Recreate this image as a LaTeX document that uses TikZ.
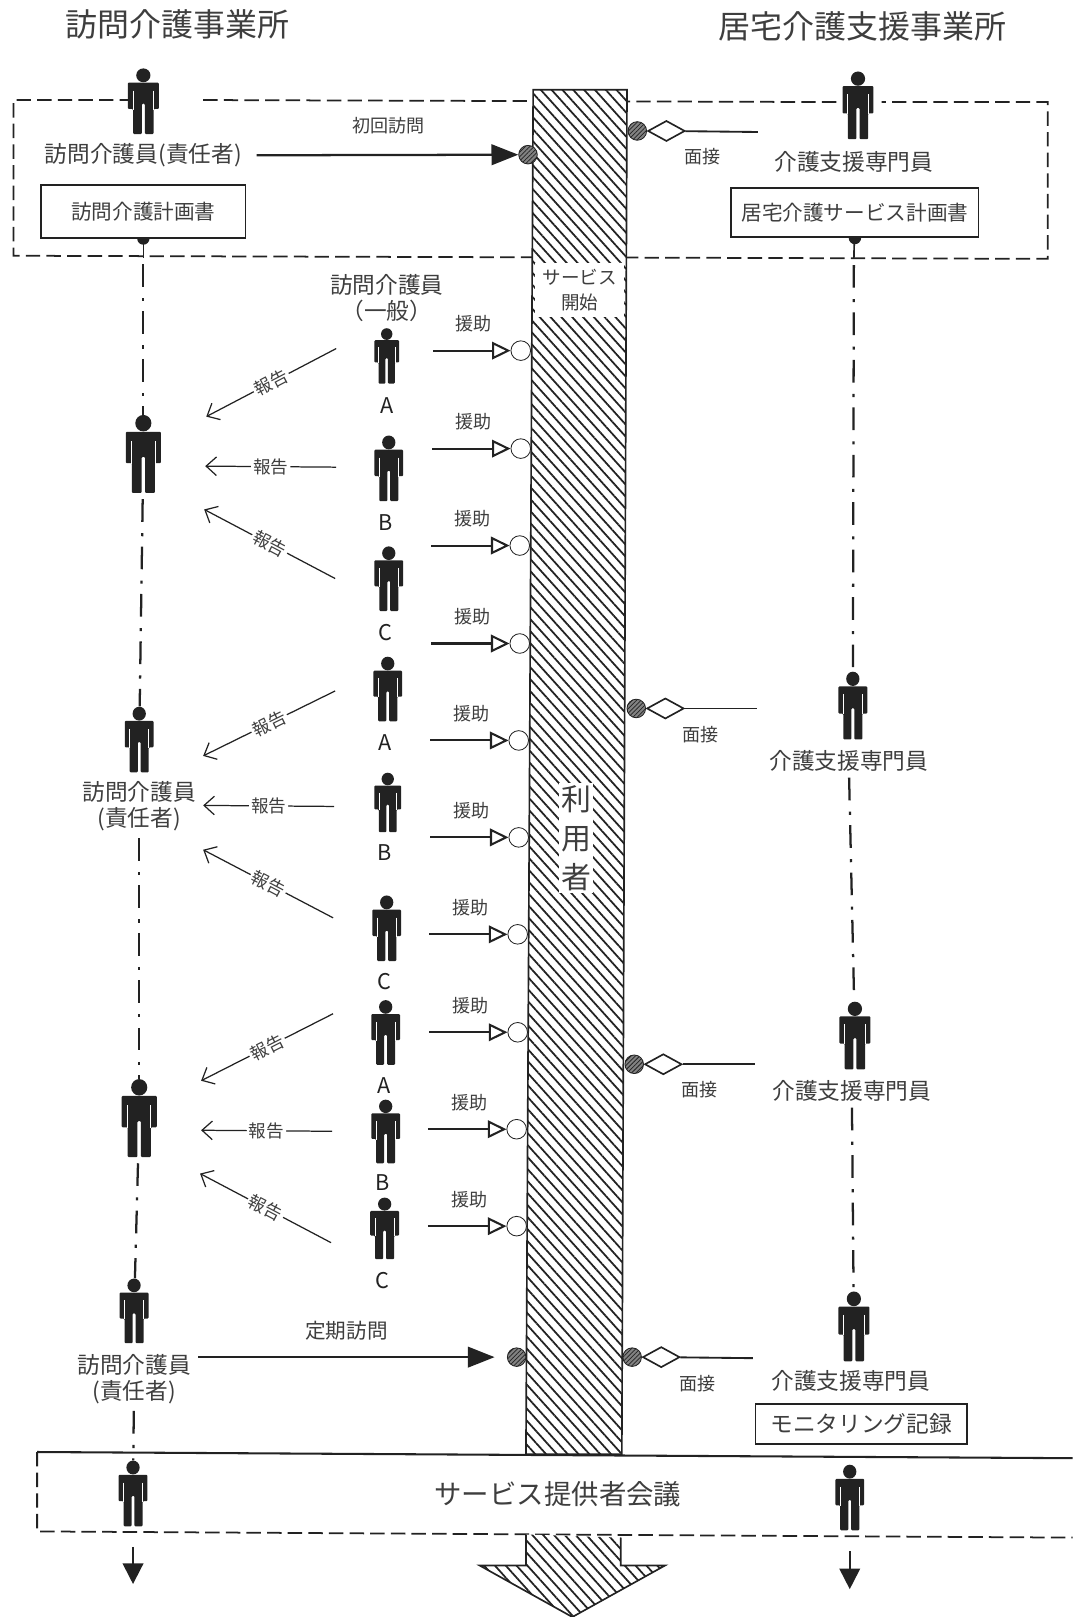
\documentclass[tikz,border=0pt]{standalone}
\usepackage{fontspec}
\setmainfont{Noto Sans CJK JP}
\usepackage{xcolor}
\definecolor{csInk}{RGB}{34,34,34}
\definecolor{csText}{RGB}{62,62,62}
\definecolor{csDot}{RGB}{130,130,130}
\usetikzlibrary{positioning,arrows.meta,shapes.geometric,patterns.meta}
\tikzset{
  cs-staff/.style 2 args={inner sep=0pt,outer sep=0pt,minimum width=#1*.5pt,minimum height=#2*.5pt,
    path picture={
      \begin{scope}[shift={(path picture bounding box.center)},x=#1*.5pt,y=-#2*.5pt]
        \fill[csInk] (0,-.39) circle [x radius=.23,y radius=.105];
        \fill[csInk,rounded corners=.5pt] (-.5,-.28) -- (.5,-.28) -- (.5,.12) -- (.33,.12) -- (.33,.5)
          -- (.05,.5) -- (.05,.04) -- (-.05,.04) -- (-.05,.5) -- (-.33,.5) -- (-.33,.12) -- (-.5,.12) -- cycle;
        \draw[white,line width=.35pt] (-.33,-.16) -- (-.33,.13) (.33,-.16) -- (.33,.13);
      \end{scope}}},
  cs-title/.style={text=csText,inner sep=0pt,font=\fontsize{15.5}{18}\selectfont},
  cs-name/.style={text=csText,inner sep=0pt,align=center,font=\fontsize{11}{13}\selectfont},
  cs-plan/.style={draw=csInk,fill=white,thick,text=csText,inner sep=0pt,align=center,font=\fontsize{10}{12}\selectfont},
  cs-tag/.style={text=csInk,inner sep=0pt,font=\fontsize{10.5}{12}\selectfont},
  cs-small/.style={text=csText,inner sep=0pt,font=\fontsize{8.75}{10}\selectfont},
  cs-report/.style={text=csText,fill=white,inner sep=1pt,font=\fontsize{8.5}{10}\selectfont},
  cs-dot/.style={circle,draw=csInk,fill=csDot,inner sep=0pt,minimum size=9pt,
    postaction={pattern={Lines[angle=45,distance=1.5pt,line width=.35pt]},pattern color=csInk}},
  cs-hollow/.style={circle,draw=csInk,fill=white,inner sep=0pt,minimum size=9.5pt},
  cs-gem/.style={diamond,draw=csInk,fill=white,thick,inner sep=0pt,aspect=1.8,minimum width=18pt,minimum height=10pt},
  cs-hatch/.style={preaction={fill=white},pattern={Lines[angle=-48,distance=3.9pt,line width=.85pt]},pattern color=csInk},
  cs-dash/.style={draw=csInk,line width=.85pt,dash pattern=on 7pt off 3pt},
  cs-chain/.style={draw=csInk,line width=1.1pt,dash pattern=on 11pt off 5.5pt on 1.5pt off 5pt},
  cs-visit/.style={-{Triangle[length=13pt,width=10pt]},csInk,line width=1.1pt},
  cs-help/.style={-{Triangle[open,length=9pt,width=8.5pt]},csInk,line width=1pt},
  cs-aid/.style={cs-small,above=8.5pt,xshift=1pt},
  cs-reportline/.style={-{Straight Barb[length=5pt,width=9pt]},csInk,line width=.6pt},
  cs-talk/.style={csInk,line width=.9pt},
  cs-end/.style={-{Triangle[length=10pt,width=10pt]},csInk,line width=.9pt},
}
\begin{document}
\begin{tikzpicture}[x=.5pt,y=-.5pt]
  \useasboundingbox (0,0) rectangle (1040,1568);

  % office titles
  \node[cs-title] (office) at (172,24) {訪問介護事業所};
  \node[cs-title] (care) at (836,26) {居宅介護支援事業所};

  % first visit frame
  \draw[cs-dash] (150,97) -- (13,97) -- (13,248) -- (1016,251) -- (1016,99) -- (855,99);
  \draw[cs-dash] (197,97) -- (815,99);

  % meeting frame
  \draw[csInk,line width=1pt] (36,1408) -- (1040,1414);
  \draw[cs-dash] (36,1408) -- (36,1485) -- (1040,1491);

  % user column
  \filldraw[cs-hatch,draw=csInk,line width=.8pt] (517,87) -- (608,87) -- (603,1410) -- (510,1410) -- cycle;
  \path[cs-hatch] (510,1488) -- (602,1491) -- (602,1518) -- (645,1518) -- (555,1568) -- (465,1518) -- (510,1518) -- cycle;
  \draw[csInk,line width=.8pt] (510,1488) -- (510,1518) -- (465,1518) -- (555,1568) -- (645,1518) -- (602,1518) -- (602,1491);
  \node[fill=white,text=csText,inner sep=0pt,align=center,minimum width=87*.5pt,minimum height=52*.5pt,
    font=\fontsize{9}{12}\selectfont] (start) at (562,281) {サービス\\開始};
  \node[fill=white,text=csText,inner sep=1pt,align=center,font=\fontsize{14.5}{19}\selectfont] (user) at (559,813) {利\\用\\者};

  % visiting side
  \node[cs-staff={30}{64}] (lead1) at (139,98) {};
  \node[cs-name,below=4.5pt of lead1] (lead1text) {訪問介護員(責任者)};
  \node[cs-plan,minimum width=198*.5pt,minimum height=51*.5pt] (visitplan) at (139,205) {訪問介護計画書};
  \coordinate (visitout) at (139,250);
  \node[cs-staff={34}{76}] (lead2) at (139,440) {};
  \node[cs-staff={28}{64}] (lead3) at (135,717) {};
  \node[cs-name,below=4pt of lead3] (lead3text) {訪問介護員\\(責任者)};
  \node[cs-staff={34}{76}] (lead4) at (135,1084) {};
  \node[cs-staff={28}{63}] (lead5) at (130,1271) {};
  \node[cs-name,below=5pt of lead5] (lead5text) {訪問介護員\\(責任者)};
  \node[cs-staff={28}{64}] (lead6) at (129,1448) {};
  \coordinate (leadend) at (129,1536);

  % support side
  \node[cs-staff={30}{66}] (mgr1) at (832,102) {};
  \node[cs-name,below=5.5pt of mgr1,xshift=-2pt] (mgr1text) {介護支援専門員};
  \node[cs-plan,minimum width=240*.5pt,minimum height=48*.5pt] (careplan) at (829,206) {居宅介護サービス計画書};
  \coordinate (careout) at (828,251);
  \node[cs-staff={28}{66}] (mgr2) at (827,684) {};
  \node[cs-name,below=5pt of mgr2,xshift=-2pt] (mgr2text) {介護支援専門員};
  \node[cs-staff={30}{66}] (mgr3) at (829,1004) {};
  \node[cs-name,below=5pt of mgr3,xshift=-1.5pt] (mgr3text) {介護支援専門員};
  \node[cs-staff={30}{68}] (mgr4) at (828,1286) {};
  \node[cs-name,below=4pt of mgr4,xshift=-1.5pt] (mgr4text) {介護支援専門員};
  \node[cs-plan,minimum width=205*.5pt,minimum height=39*.5pt,font=\fontsize{11}{13}\selectfont] (record) at (835,1381) {モニタリング記録};
  \node[cs-staff={28}{64}] (mgr5) at (824,1452) {};
  \coordinate (mgrend) at (824,1541);

  % meeting text
  \node[text=csText,inner sep=0pt,font=\fontsize{13.3}{15}\selectfont] (meeting) at (541,1449) {サービス提供者会議};

  % helpers
  \node[cs-name] (helptext) at (375,289) {訪問介護員\\（一般）};
  \node[cs-staff={24}{54}] (help1) at (375,345) {};
  \node[cs-staff={28}{64}] (help2) at (377,454) {};
  \node[cs-staff={28}{63}] (help3) at (377,561) {};
  \node[cs-staff={28}{63}] (help4) at (376,668) {};
  \node[cs-staff={26}{58}] (help5) at (376,778) {};
  \node[cs-staff={28}{64}] (help6) at (375,900) {};
  \node[cs-staff={28}{63}] (help7) at (374,1001) {};
  \node[cs-staff={28}{62}] (help8) at (374,1097) {};
  \node[cs-staff={28}{60}] (help9) at (373,1191) {};
  \node[cs-tag] (tag1) at (375,393) {A};
  \node[cs-tag] (tag2) at (374,507) {B};
  \node[cs-tag] (tag3) at (374,613) {C};
  \node[cs-tag] (tag4) at (373,720) {A};
  \node[cs-tag] (tag5) at (373,827) {B};
  \node[cs-tag] (tag6) at (373,952) {C};
  \node[cs-tag] (tag7) at (372,1053) {A};
  \node[cs-tag] (tag8) at (371,1147) {B};
  \node[cs-tag] (tag9) at (371,1242) {C};

  % visit dots
  \node[cs-dot] (first) at (512,150) {};
  \node[cs-dot] (regular) at (501,1316) {};
  \node[cs-small] (firsttext) at (377,122) {初回訪問};
  \node[cs-small,font=\fontsize{10}{12}\selectfont] (regulartext) at (336,1290) {定期訪問};
  \coordinate (regularin) at (192,1316);

  % interview marks
  \node[cs-dot] (talk1) at (618,127) {};
  \node[cs-gem,right=0pt of talk1] (gem1) {};
  \coordinate (talk1in) at (735,128);
  \node[cs-small] (talk1text) at (681,152) {面接};
  \node[cs-dot] (talk2) at (617,687) {};
  \node[cs-gem,right=0pt of talk2] (gem2) {};
  \coordinate (talk2in) at (734,687);
  \node[cs-small] (talk2text) at (679,712) {面接};
  \node[cs-dot] (talk3) at (615,1032) {};
  \node[cs-gem,right=0pt of talk3] (gem3) {};
  \coordinate (talk3in) at (732,1032);
  \node[cs-small] (talk3text) at (678,1057) {面接};
  \node[cs-dot] (talk4) at (613,1316) {};
  \node[cs-gem,right=0pt of talk4] (gem4) {};
  \coordinate (talk4in) at (730,1317);
  \node[cs-small] (talk4text) at (676,1342) {面接};

  % help circles
  \node[cs-hollow] (aid1) at (505,340) {};
  \node[cs-hollow] (aid2) at (505,435) {};
  \node[cs-hollow] (aid3) at (504,529) {};
  \node[cs-hollow] (aid4) at (504,624) {};
  \node[cs-hollow] (aid5) at (503,718) {};
  \node[cs-hollow] (aid6) at (503,812) {};
  \node[cs-hollow] (aid7) at (502,906) {};
  \node[cs-hollow] (aid8) at (502,1001) {};
  \node[cs-hollow] (aid9) at (501,1095) {};
  \node[cs-hollow] (aid10) at (501,1189) {};
  \coordinate (aid1in) at (420,340);
  \coordinate (aid2in) at (419,435);
  \coordinate (aid3in) at (418,529);
  \coordinate (aid4in) at (418,624);
  \coordinate (aid5in) at (417,718);
  \coordinate (aid6in) at (417,812);
  \coordinate (aid7in) at (416,906);
  \coordinate (aid8in) at (416,1001);
  \coordinate (aid9in) at (415,1095);
  \coordinate (aid10in) at (415,1189);

  % report ends
  \coordinate (rep1a) at (326,338); \coordinate (rep1b) at (200,404);
  \coordinate (rep2a) at (326,453); \coordinate (rep2b) at (199,452);
  \coordinate (rep3a) at (325,561); \coordinate (rep3b) at (198,494);
  \coordinate (rep4a) at (325,670); \coordinate (rep4b) at (197,733);
  \coordinate (rep5a) at (324,782); \coordinate (rep5b) at (197,781);
  \coordinate (rep6a) at (323,890); \coordinate (rep6b) at (197,824);
  \coordinate (rep7a) at (323,983); \coordinate (rep7b) at (195,1048);
  \coordinate (rep8a) at (322,1097); \coordinate (rep8b) at (195,1096);
  \coordinate (rep9a) at (321,1205); \coordinate (rep9b) at (194,1138);

  % edges
  \draw[cs-visit,shorten <=7pt] (lead1text) -- (first);
  \draw[cs-visit,shorten >=6pt] (regularin) -- (regular);
  \draw[cs-talk] (talk1in) -- (gem1);
  \draw[cs-talk] (talk2in) -- (gem2);
  \draw[cs-talk] (talk3in) -- (gem3);
  \draw[cs-talk] (talk4in) -- (gem4);

  % plan tabs
  \fill[csInk] ([xshift=-3pt]visitplan.south) arc [start angle=180,end angle=360,radius=3pt];
  \fill[csInk] ([xshift=-3pt]careplan.south) arc [start angle=180,end angle=360,radius=3pt];
  \draw[csInk,line width=.8pt] (visitplan) -- (visitout);
  \draw[csInk,line width=.8pt] (careplan) -- (careout);

  % chains
  \draw[cs-chain,shorten <=3pt] (visitout) -- (lead2);
  \draw[cs-chain,shorten <=3pt] (lead2) -- (lead3);
  \draw[cs-chain,shorten <=3pt] (lead3text) -- (lead4);
  \draw[cs-chain,shorten <=3pt] (lead4) -- (lead5);
  \draw[cs-chain,shorten <=3pt] (lead5text) -- (lead6);
  \draw[cs-end,shorten <=10pt] (lead6) -- (leadend);
  \draw[cs-chain,shorten <=3pt] (careout) -- (mgr2);
  \draw[cs-chain,shorten <=3pt] (mgr2text) -- (mgr3);
  \draw[cs-chain,shorten <=3pt] (mgr3text) -- (mgr4);
  \draw[cs-end,shorten <=10pt] (mgr5) -- (mgrend);

  % help arrows
  \draw[cs-help] (aid1in) -- node[cs-aid] {援助} (aid1);
  \draw[cs-help] (aid2in) -- node[cs-aid] {援助} (aid2);
  \draw[cs-help] (aid3in) -- node[cs-aid] {援助} (aid3);
  \draw[cs-help] (aid4in) -- node[cs-aid] {援助} (aid4);
  \draw[cs-help] (aid5in) -- node[cs-aid] {援助} (aid5);
  \draw[cs-help] (aid6in) -- node[cs-aid] {援助} (aid6);
  \draw[cs-help] (aid7in) -- node[cs-aid] {援助} (aid7);
  \draw[cs-help] (aid8in) -- node[cs-aid] {援助} (aid8);
  \draw[cs-help] (aid9in) -- node[cs-aid] {援助} (aid9);
  \draw[cs-help] (aid10in) -- node[cs-aid] {援助} (aid10);

  % report arrows
  \draw[cs-reportline] (rep1a) -- node[cs-report,sloped] {報告} (rep1b);
  \draw[cs-reportline] (rep2a) -- node[cs-report,sloped] {報告} (rep2b);
  \draw[cs-reportline] (rep3a) -- node[cs-report,sloped] {報告} (rep3b);
  \draw[cs-reportline] (rep4a) -- node[cs-report,sloped] {報告} (rep4b);
  \draw[cs-reportline] (rep5a) -- node[cs-report,sloped] {報告} (rep5b);
  \draw[cs-reportline] (rep6a) -- node[cs-report,sloped] {報告} (rep6b);
  \draw[cs-reportline] (rep7a) -- node[cs-report,sloped] {報告} (rep7b);
  \draw[cs-reportline] (rep8a) -- node[cs-report,sloped] {報告} (rep8b);
  \draw[cs-reportline] (rep9a) -- node[cs-report,sloped] {報告} (rep9b);
\end{tikzpicture}
\end{document}
